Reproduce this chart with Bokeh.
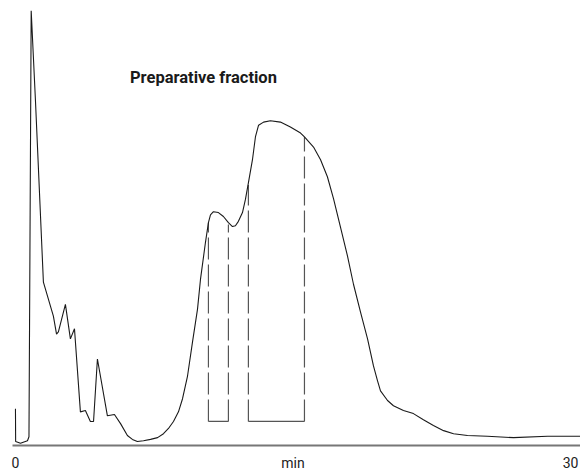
from bokeh.plotting import figure
from bokeh.models import Range1d, FixedTicker, LinearAxis
from bokeh.core.properties import value
from bokeh.embed import file_html
from bokeh.resources import INLINE

# Chromatogram trace (time in min, signal in % of full scale)
time_min = [0.00, 0.01, 0.27, 0.65, 0.73, 0.85, 1.08, 1.51, 2.05, 2.22, 2.32, 2.70,
            2.97, 3.19, 3.51, 3.78, 4.05, 4.22, 4.43, 4.97, 5.35, 5.68, 6.05, 6.32,
            6.59, 6.92, 7.30, 7.68, 8.00, 8.27, 8.54, 8.81, 9.03, 9.30, 9.57, 9.84,
            10.00, 10.27, 10.43, 10.54, 10.70, 10.97, 11.24, 11.51, 11.73, 11.89,
            12.05, 12.27, 12.43, 12.59, 12.81, 12.97, 13.14, 13.41, 13.78, 14.32,
            14.86, 15.41, 15.62, 16.11, 16.49, 16.86, 17.19, 17.57, 17.95, 18.27,
            18.65, 19.03, 19.35, 19.57, 19.73, 20.11, 20.43, 20.97, 21.51, 22.05,
            22.59, 23.14, 23.68, 24.43, 25.51, 26.92, 28.76, 30.54]
signal = [8.4, 0.9, 0.5, 1.1, 2.0, 99.5, 79.0, 37.4, 29.6, 25.5, 26.0, 32.3,
          24.4, 26.7, 7.7, 8.0, 5.5, 5.5, 19.8, 6.8, 7.1, 5.0, 2.3, 1.4,
          0.9, 1.1, 1.4, 1.8, 2.7, 3.9, 5.5, 7.7, 10.7, 15.9, 23.7, 31.2,
          38.0, 46.5, 51.0, 52.8, 53.5, 53.3, 52.4, 51.0, 50.1, 50.3,
          51.3, 53.3, 56.3, 60.1, 65.4, 70.6, 73.3, 74.0, 74.3, 74.0,
          72.9, 71.5, 70.6, 68.3, 65.4, 61.5, 56.5, 49.9, 43.3, 36.9,
          30.5, 24.4, 18.2, 14.8, 12.5, 10.3, 9.1, 8.0, 7.3, 5.9,
          4.6, 3.4, 2.7, 2.3, 2.1, 1.8, 2.1, 2.1]

# Collected fractions
frac_start = [10.43, 12.59]
frac_end = [11.51, 15.62]
frac_start_top = [51.0, 59.6]
frac_end_top = [50.6, 70.6]
frac_floor = [5.5, 5.5]

tick_values = [0, 15, 30]
tick_labels = {0: "0", 15: "min", 30: "30"}
title_text = "Preparative fraction"

FONT = "Roboto"

p = figure(width=580, height=473, output_backend="svg", toolbar_location=None,
           x_range=Range1d(-0.16, 30.54), y_range=Range1d(0, 100),
           x_axis_location=None, y_axis_location=None,
           min_border_left=12, min_border_right=0, min_border_top=8, min_border_bottom=0)
p.outline_line_color = None
p.xgrid.visible = False
p.ygrid.visible = False
p.background_fill_color = "white"
p.border_fill_color = "white"

ax = LinearAxis(ticker=FixedTicker(ticks=tick_values),
                major_label_overrides=tick_labels)
ax.axis_line_color = "#777777"
ax.axis_line_width = 2
ax.major_tick_line_color = None
ax.minor_tick_line_color = None
ax.major_tick_out = 0
ax.major_tick_in = 0
ax.major_label_standoff = 9
ax.major_label_text_font = FONT
ax.major_label_text_font_size = "14px"
ax.major_label_text_color = "#222222"
p.add_layout(ax, "below")

# fraction markers
p.segment(x0=frac_start, y0=frac_floor, x1=frac_start, y1=frac_start_top,
          line_color="#555555", line_width=1.2, line_dash="22 5")
p.segment(x0=frac_end, y0=frac_floor, x1=frac_end, y1=frac_end_top,
          line_color="#555555", line_width=1.2, line_dash="22 5")
p.segment(x0=frac_start, y0=frac_floor, x1=frac_end, y1=frac_floor,
          line_color="#555555", line_width=1.2)

p.line(time_min, signal, line_color="#1a1a1a", line_width=1.1)

p.text(x=[10.16], y=[84.3], text=[title_text], text_font=value(FONT),
       text_font_style="bold", text_font_size="16.5px", text_color="#1a1a1a",
       text_align="center", text_baseline="middle")

open("out.html", "w").write(file_html(p, INLINE))
